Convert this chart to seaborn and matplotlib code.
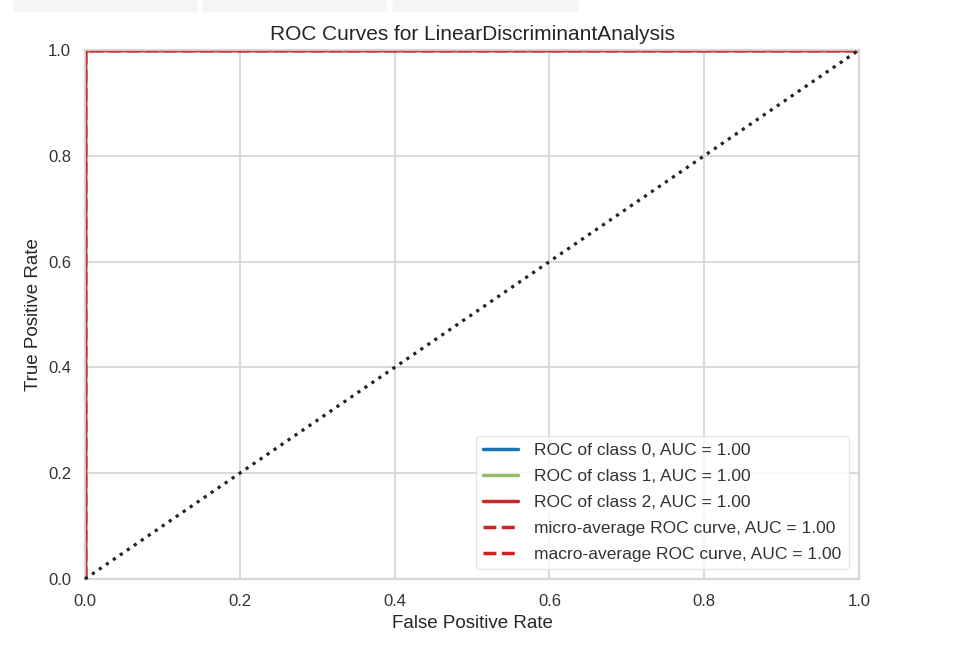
import matplotlib
matplotlib.use("Agg")
import matplotlib.pyplot as plt
import seaborn as sns
import pandas as pd
from matplotlib.patches import Rectangle

# Data
class_names = ["0", "1", "2"]
fpr_class = [[0.0, 0.0, 1.0], [0.0, 0.0, 1.0], [0.0, 0.0, 1.0]]
tpr_class = [[0.0, 1.0, 1.0], [0.0, 1.0, 1.0], [0.0, 1.0, 1.0]]
auc_class = [1.00, 1.00, 1.00]
fpr_micro = [0.0, 0.0, 1.0]
tpr_micro = [0.0, 1.0, 1.0]
auc_micro = 1.00
fpr_macro = [0.0, 0.0, 1.0]
tpr_macro = [0.0, 1.0, 1.0]
auc_macro = 1.00
diag_x = [0.0, 1.0]
diag_y = [0.0, 1.0]
ticks = [0.0, 0.2, 0.4, 0.6, 0.8, 1.0]

class_colors = ["#1b74b0", "#93be6a", "#c9282a"]
avg_color = "#d42020"

sns.set_theme(style="whitegrid")
plt.rcParams["font.family"] = ["Liberation Sans", "DejaVu Sans"]
plt.rcParams["axes.edgecolor"] = "#d5d5d5"
plt.rcParams["grid.color"] = "#d9d9d9"

fig = plt.figure(figsize=(9.72, 6.52), dpi=100)
ax = fig.add_axes([85/972, 1-579/652, (859-85)/972, (579-50)/652])

# top gray boxes (notebook artifacts)
for x0, x1 in [(14, 197), (203, 386), (393, 577)]:
    fig.patches.append(Rectangle((x0/972, 1-11/652), (x1-x0)/972, 11/652,
                                 transform=fig.transFigure, color="#f5f5f5", zorder=0))

for i, name in enumerate(class_names):
    df = pd.DataFrame({"fpr": fpr_class[i], "tpr": tpr_class[i]})
    sns.lineplot(data=df, x="fpr", y="tpr", ax=ax, color=class_colors[i], lw=2.5,
                 sort=False, estimator=None, zorder=2,
                 label=f"ROC of class {name}, AUC = {auc_class[i]:.2f}")

df = pd.DataFrame({"fpr": fpr_micro, "tpr": tpr_micro})
sns.lineplot(data=df, x="fpr", y="tpr", ax=ax, color=avg_color, lw=2.5, sort=False,
             estimator=None, linestyle="--", zorder=2,
             label=f"micro-average ROC curve, AUC = {auc_micro:.2f}")
df = pd.DataFrame({"fpr": fpr_macro, "tpr": tpr_macro})
sns.lineplot(data=df, x="fpr", y="tpr", ax=ax, color=avg_color, lw=2.5, sort=False,
             estimator=None, linestyle="--", zorder=2,
             label=f"macro-average ROC curve, AUC = {auc_macro:.2f}")

ax.plot(diag_x, diag_y, linestyle=":", color="#222222", lw=2.3, zorder=3, clip_on=False)

ax.set_xlim(0, 1)
ax.set_ylim(0, 1)
ax.set_xticks(ticks)
ax.set_yticks(ticks)
ax.set_xticklabels([f"{t:.1f}" for t in ticks])
ax.set_yticklabels([f"{t:.1f}" for t in ticks])
ax.tick_params(labelsize=12, colors="#333333", length=0)
ax.tick_params(axis="x", pad=11)
ax.tick_params(axis="y", pad=10)
for lab in ax.get_xticklabels() + ax.get_yticklabels():
    lab.set_color("#333333")
ax.grid(True, lw=1.4)
for s in ax.spines.values():
    s.set_linewidth(1.6)
    s.set_alpha(0.9)
ax.set_title("ROC Curves for LinearDiscriminantAnalysis", fontsize=15, color="#262626", pad=7)
ax.set_xlabel("False Positive Rate", fontsize=13.5, color="#262626", labelpad=4)
ax.set_ylabel("True Positive Rate", fontsize=13.5, color="#262626", labelpad=4.5)

leg = ax.legend(loc="lower right", fontsize=12.5, frameon=True, facecolor="white",
                edgecolor="#e0e0e0", framealpha=0.8, labelspacing=0.62,
                handlelength=2.0, handletextpad=0.95, borderaxespad=0.6)
for t in leg.get_texts():
    t.set_color("#333333")

fig.savefig("out.png", dpi=100)
